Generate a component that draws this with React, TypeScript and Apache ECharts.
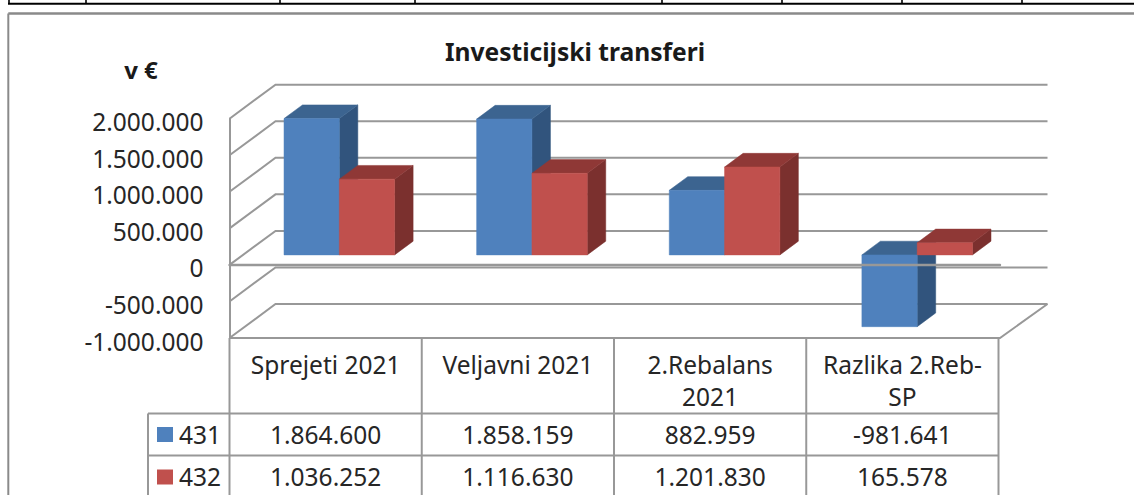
import React, { useEffect, useRef } from "react";
import * as echarts from "echarts";

const categories = ["Sprejeti 2021", "Veljavni 2021", "2.Rebalans\n2021", "Razlika 2.Reb-\nSP"];
const series431 = [1864600, 1858159, 882959, -981641];
const series432 = [1036252, 1116630, 1201830, 165578];
const seriesNames = ["431", "432"];
const axisTicks = [-1000000, -500000, 0, 500000, 1000000, 1500000, 2000000];
const titleText = "Investicijski transferi";
const unitText = "v €";
const topStripTicks = [9, 86, 280, 415, 662, 782, 902, 1022];

const FONT = "'Noto Sans', sans-serif";
const TEXT = "#262626";
const GRID = "#989898";
const LABEL_SIZE = 24.5;
const fmt = (v: number) => {
  const s = Math.abs(v).toString().replace(/\B(?=(\d{3})+(?!\d))/g, ".");
  return (v < 0 ? "-" : "") + s;
};

const palette = [
  { front: "#4F81BD", top: "#3C6490", side: "#31547D" },
  { front: "#C0504D", top: "#8F3836", side: "#7B302E" },
];

const WALL_DX = 46, WALL_DX_R = 47.5, WALL_DY = -34;
const PLANE_DX = 13.5, PLANE_DY = -10;
const DEPTH_DX = 18.5, DEPTH_DY = -13.7;
const BAR_W = 55.3;

function barRenderer(seriesIdx: number) {
  const c = palette[seriesIdx];
  return (params: any, api: any) => {
    const cat = api.value(0), val = api.value(1);
    const base = api.coord([cat, 0]);
    const tip = api.coord([cat, val]);
    const x0 = base[0] + PLANE_DX + (seriesIdx - 1) * BAR_W;
    const x1 = x0 + BAR_W;
    const yBase = base[1] + PLANE_DY;
    const yTip = tip[1] + PLANE_DY;
    const yT = Math.min(yBase, yTip), yB = Math.max(yBase, yTip);
    const poly = (points: number[][], fill: string) => ({
      type: "polygon", shape: { points }, style: { fill, stroke: fill, lineWidth: 0.5 },
    });
    return {
      type: "group",
      children: [
        poly([[x1, yT], [x1 + DEPTH_DX, yT + DEPTH_DY], [x1 + DEPTH_DX, yB + DEPTH_DY], [x1, yB]], c.side),
        poly([[x0, yT], [x0 + DEPTH_DX, yT + DEPTH_DY], [x1 + DEPTH_DX, yT + DEPTH_DY], [x1, yT]], c.top),
        poly([[x0, yT], [x1, yT], [x1, yB], [x0, yB]], c.front),
      ],
    };
  };
}

function wallRenderer(params: any, api: any) {
  const val = api.value(0);
  const left = api.coord([0, val]);
  const size = api.size([1, 0]);
  const xL = left[0] - size[0] / 2;
  const xR = xL + size[0] * categories.length;
  const y = left[1];
  const style = { stroke: GRID, lineWidth: 2, fill: "none" };
  const pts: number[][] = [[xL, y], [xL + WALL_DX, y + WALL_DY], [xR + WALL_DX_R, y + WALL_DY]];
  const children: any[] = [{ type: "polyline", shape: { points: pts }, style }];
  if (val === axisTicks[0]) {
    children.push({
      type: "polyline",
      shape: { points: [[xL, y], [xR, y], [xR + WALL_DX_R, y + WALL_DY]] },
      style,
    });
  }
  return { type: "group", children };
}

const TL = 229.5, TW = 192.25;
const colX = categories.map((_, i) => TL + i * TW);
const TABLE_R = TL + TW * categories.length;
const ROW_Y = [338, 413.5, 455.5, 497];
const LEG_X = 148;

function tableGraphics() {
  const g: any[] = [];
  const line = (x1: number, y1: number, x2: number, y2: number, stroke = GRID, lineWidth = 2) =>
    g.push({ type: "line", shape: { x1, y1, x2, y2 }, style: { stroke, lineWidth }, z: 1 });
  const text = (x: number, y: number, t: string) =>
    g.push({
      type: "text", x, y, z: 3,
      style: {
        text: t, fill: TEXT, fontFamily: "Noto Sans", fontSize: LABEL_SIZE,
        align: "center", verticalAlign: "middle",
      },
    });

  // outside strip and chart frame
  line(8, 3.7, 1134, 3.7, "#000000", 2);
  topStripTicks.forEach((x) => line(x, 0, x, 4, "#000000", 1.6));
  line(8.3, 13.5, 1134, 13.5, "#8a8a8a", 2.4);
  line(8.3, 13.5, 8.3, 495, "#8a8a8a", 2);

  // data table lines
  [...colX, TABLE_R].forEach((x) => line(x, ROW_Y[0], x, 495));
  line(LEG_X, ROW_Y[1], LEG_X, 495);
  line(LEG_X, ROW_Y[1], TABLE_R, ROW_Y[1]);
  line(LEG_X, ROW_Y[2], TABLE_R, ROW_Y[2]);

  const rows = [series431, series432];
  const rowMid = [434, 476.5];
  categories.forEach((c, i) => {
    g.push({
      type: "text", x: colX[i] + TW / 2, y: 348.5, z: 3,
      style: {
        text: c, fill: TEXT, fontFamily: "Noto Sans", fontSize: LABEL_SIZE, lineHeight: 32,
        align: "center", verticalAlign: "top",
      },
    });
    rows.forEach((r, k) => text(colX[i] + TW / 2, rowMid[k], fmt(r[i])));
  });
  rows.forEach((_, k) => {
    g.push({
      type: "rect", shape: { x: 157, y: rowMid[k] - 7, width: 16, height: 15 }, z: 3,
      style: { fill: palette[k].front },
    });
    text(200, rowMid[k], seriesNames[k]);
  });
  return g;
}

export default function App() {
  const ref = useRef<HTMLDivElement>(null);
  useEffect(() => {
    const chart = echarts.init(ref.current!, undefined, { renderer: "svg" });
    chart.setOption({
      animation: false,
      backgroundColor: "#ffffff",
      textStyle: { fontFamily: FONT },
      title: [
        {
          text: titleText, left: 570, top: 34, textAlign: "center",
          textStyle: { fontFamily: "Noto Sans", fontSize: 24.6, fontWeight: "bold", color: "#1a1a1a" },
        },
        {
          text: unitText, left: 136, top: 52, textAlign: "center",
          textStyle: { fontFamily: "Noto Sans", fontSize: 24, fontWeight: "bold", color: "#1a1a1a" },
        },
      ],
      grid: { left: 229.5, top: 118.7, width: 770.5, height: 219.3, containLabel: false },
      xAxis: {
        type: "category",
        data: categories,
        z: 6,
        axisLine: { show: true, onZero: true, lineStyle: { color: GRID, width: 2.4 } },
        axisTick: { show: false },
        axisLabel: { show: false },
        splitLine: { show: false },
      },
      yAxis: {
        type: "value",
        min: -1000000,
        max: 2000000,
        interval: 500000,
        axisLine: { show: true, lineStyle: { color: GRID, width: 2 } },
        axisTick: { show: false },
        splitLine: { show: false },
        axisLabel: {
          formatter: (v: number) => fmt(v),
          margin: 26,
          fontFamily: "Noto Sans",
          fontSize: LABEL_SIZE,
          color: TEXT,
          verticalAlign: "top",
          lineHeight: 6,
        },
      },
      series: [
        {
          type: "custom", name: "walls", renderItem: wallRenderer, silent: true, z: 1, clip: false,
          data: axisTicks.map((v) => [v]), encode: { y: 0 },
        },
        {
          type: "custom", name: seriesNames[0], renderItem: barRenderer(0), z: 2, clip: false,
          data: series431.map((v, i) => [i, v]), encode: { x: 0, y: 1 },
        },
        {
          type: "custom", name: seriesNames[1], renderItem: barRenderer(1), z: 3, clip: false,
          data: series432.map((v, i) => [i, v]), encode: { x: 0, y: 1 },
        },
      ],
      graphic: tableGraphics(),
    });
    return () => chart.dispose();
  }, []);
  return <div ref={ref} style={{ position: "fixed", left: 0, top: 0, width: 1134, height: 495 }} />;
}
